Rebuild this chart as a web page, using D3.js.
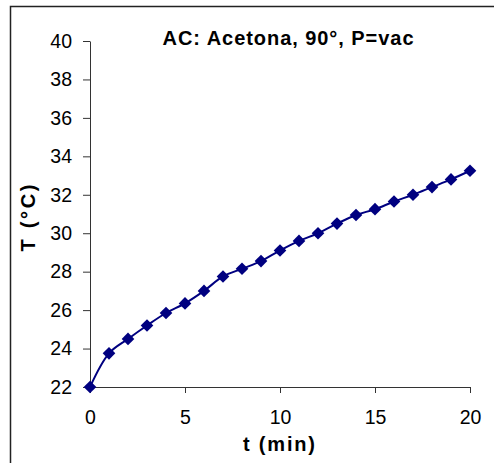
<!DOCTYPE html>
<html>
<head>
<meta charset="utf-8">
<script src="https://cdn.jsdelivr.net/npm/d3@7"></script>
<style>
  html, body { margin: 0; padding: 0; background: #fff; }
  svg { display: block; font-family: "Liberation Sans", Arial, sans-serif; }
</style>
</head>
<body>
<div id="chart"></div>
<script>
// Data
const times = [0, 1, 2, 3, 4, 5, 6, 7, 8, 9, 10, 11, 12, 13, 14, 15, 16, 17, 18, 19, 20];
const temps = [22, 23.75, 24.5, 25.2, 25.85, 26.35, 27.0, 27.75, 28.15, 28.55, 29.1,
               29.6, 30.0, 30.5, 30.95, 31.25, 31.65, 32.0, 32.4, 32.8, 33.25];
const xTicks = [0, 5, 10, 15, 20];
const yTicks = [22, 24, 26, 28, 30, 32, 34, 36, 38, 40];
const chartTitle = 'AC: Acetona, 90°, P=vac';
const xLabel = 't (min)';
const yLabel = 'T (°C)';

const W = 494, H = 463;
const plot = { left: 90, right: 470, top: 41, bottom: 387 };
const navy = '#000080';

const svg = d3.select('#chart').append('svg')
  .attr('width', W)
  .attr('height', H);

// Outer chart frame (runs off the right and bottom edges)
svg.append('rect')
  .attr('x', 10.5).attr('y', 6.5)
  .attr('width', 520).attr('height', 520)
  .style('fill', 'none')
  .style('stroke', '#222')
  .style('stroke-width', '1.5px');

const x = d3.scaleLinear().domain([0, 20]).range([plot.left, plot.right]);
const y = d3.scaleLinear().domain([22, 40]).range([plot.bottom, plot.top]);

// X axis
const xAxis = svg.append('g')
  .attr('transform', `translate(0,${plot.bottom})`)
  .call(d3.axisBottom(x).tickValues(xTicks).tickSize(6).tickPadding(17).tickSizeOuter(0));
xAxis.select('.domain').style('stroke', '#333');
xAxis.selectAll('.tick line').style('stroke', '#333');
xAxis.selectAll('.tick text')
  .style('font-size', '19.5px')
  .style('fill', '#000');

// Y axis
const yAxis = svg.append('g')
  .attr('transform', `translate(${plot.left},0)`)
  .call(d3.axisLeft(y).tickValues(yTicks).tickSize(7).tickPadding(11).tickSizeOuter(0));
yAxis.select('.domain').style('stroke', '#333');
yAxis.selectAll('.tick line').style('stroke', '#333');
yAxis.selectAll('.tick text')
  .style('font-size', '19.5px')
  .style('fill', '#000');

// Smoothed line
const points = times.map((t, i) => ({ t: t, v: temps[i] }));
const line = d3.line()
  .x(d => x(d.t))
  .y(d => y(d.v))
  .curve(d3.curveCatmullRom.alpha(0.5));

svg.append('path')
  .datum(points)
  .attr('d', line)
  .style('fill', 'none')
  .style('stroke', navy)
  .style('stroke-width', '2px');

// Diamond markers
const diamond = d3.symbol().type(d3.symbolSquare).size(80);
svg.selectAll('.marker')
  .data(points)
  .enter()
  .append('path')
  .attr('class', 'marker')
  .attr('d', diamond)
  .attr('transform', d => `translate(${x(d.t)},${y(d.v)}) rotate(45)`)
  .style('fill', navy);

// Title
svg.append('text')
  .attr('x', 288).attr('y', 45)
  .attr('text-anchor', 'middle')
  .attr('textLength', 251)
  .attr('lengthAdjust', 'spacing')
  .style('font-size', '20px')
  .style('font-weight', 'bold')
  .text(chartTitle);

// Axis titles
svg.append('text')
  .attr('x', 279).attr('y', 451)
  .attr('text-anchor', 'middle')
  .attr('textLength', 72)
  .attr('lengthAdjust', 'spacing')
  .style('font-size', '20px')
  .style('font-weight', 'bold')
  .text(xLabel);

svg.append('text')
  .attr('transform', 'translate(35,218) rotate(-90)')
  .attr('text-anchor', 'middle')
  .attr('textLength', 67)
  .attr('lengthAdjust', 'spacing')
  .style('font-size', '20px')
  .style('font-weight', 'bold')
  .text(yLabel);
</script>
</body>
</html>
